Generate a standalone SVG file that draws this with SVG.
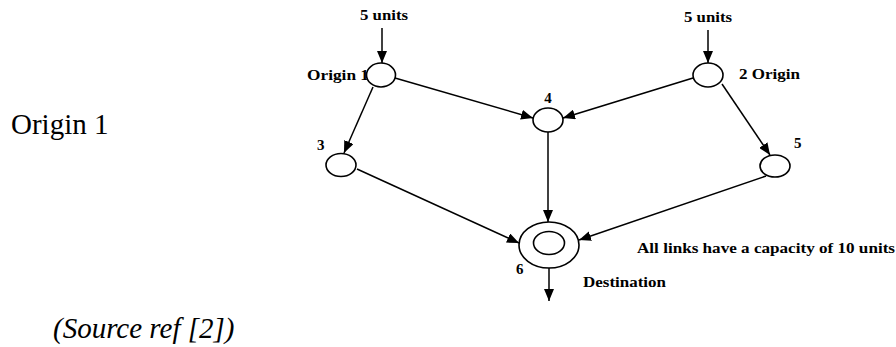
<svg xmlns="http://www.w3.org/2000/svg" width="896" height="347" viewBox="0 0 896 347">
<style>
.node{fill:#fff;stroke:#000;stroke-width:1.6}
.edge{stroke:#000;stroke-width:1.5;fill:none;marker-end:url(#ah)}
.lbl{font-family:"Liberation Serif","Times New Roman",serif;font-weight:bold;font-size:15px;fill:#000}
.big{font-family:"Liberation Serif","Times New Roman",serif;font-size:29px;fill:#000}
</style>
<defs>
<marker id="ah" viewBox="0 0 12 10" refX="12" refY="5" markerWidth="12" markerHeight="10" orient="auto" markerUnits="userSpaceOnUse">
<path d="M0,0 L12,5 L0,10 z" fill="#000"/>
</marker>
</defs>
<rect width="896" height="347" fill="#fff"/>
<text class="big" x="11" y="134">Origin 1</text>
<text class="big" x="53" y="338" font-style="italic">(Source ref [2])</text>
<g id="connectors">
<path class="edge" d="M382,28 L382,63"/>
<path class="edge" d="M708,30 L708,63"/>
<path class="edge" d="M373,87 L344,153"/>
<path class="edge" d="M395,78 L533,118"/>
<path class="edge" d="M693,78 L563,118"/>
<path class="edge" d="M722,84 L770,155"/>
<path class="edge" d="M548,132 L548,222"/>
<path class="edge" d="M357,169 L519,243"/>
<path class="edge" d="M766,176 L579,240"/>
<path class="edge" d="M549,268 L549,301"/>
</g>
<g id="in1"><text class="lbl" x="384" y="20" text-anchor="middle" textLength="48" lengthAdjust="spacingAndGlyphs">5 units</text></g>
<g id="in2"><text class="lbl" x="708" y="22" text-anchor="middle" textLength="48" lengthAdjust="spacingAndGlyphs">5 units</text></g>
<g id="node1">
<text class="lbl" x="307" y="80" textLength="62" lengthAdjust="spacingAndGlyphs">Origin 1</text>
<ellipse class="node" cx="381" cy="75" rx="14.5" ry="12"/>
</g>
<g id="node2">
<ellipse class="node" cx="708" cy="75" rx="15" ry="12"/>
<text class="lbl" x="739" y="79" textLength="61" lengthAdjust="spacingAndGlyphs">2  Origin</text>
</g>
<g id="node3">
<ellipse class="node" cx="341" cy="165" rx="15" ry="11.5"/>
<text class="lbl" x="317" y="150">3</text>
</g>
<g id="node4">
<ellipse class="node" cx="548" cy="120" rx="15" ry="12"/>
<text class="lbl" x="548" y="103" text-anchor="middle">4</text>
</g>
<g id="node5">
<ellipse class="node" cx="775" cy="166" rx="15" ry="11"/>
<text class="lbl" x="794" y="148">5</text>
</g>
<g id="node6">
<ellipse class="node" cx="549" cy="245" rx="30" ry="23"/>
<ellipse class="node" cx="549" cy="243" rx="15.5" ry="11.5"/>
<text class="lbl" x="516" y="274">6</text>
<text class="lbl" x="583" y="287" textLength="83" lengthAdjust="spacingAndGlyphs">Destination</text>
</g>
<g id="note">
<text class="lbl" x="637" y="253" textLength="258" lengthAdjust="spacingAndGlyphs">All links have a capacity of 10 units</text>
</g>
</svg>
